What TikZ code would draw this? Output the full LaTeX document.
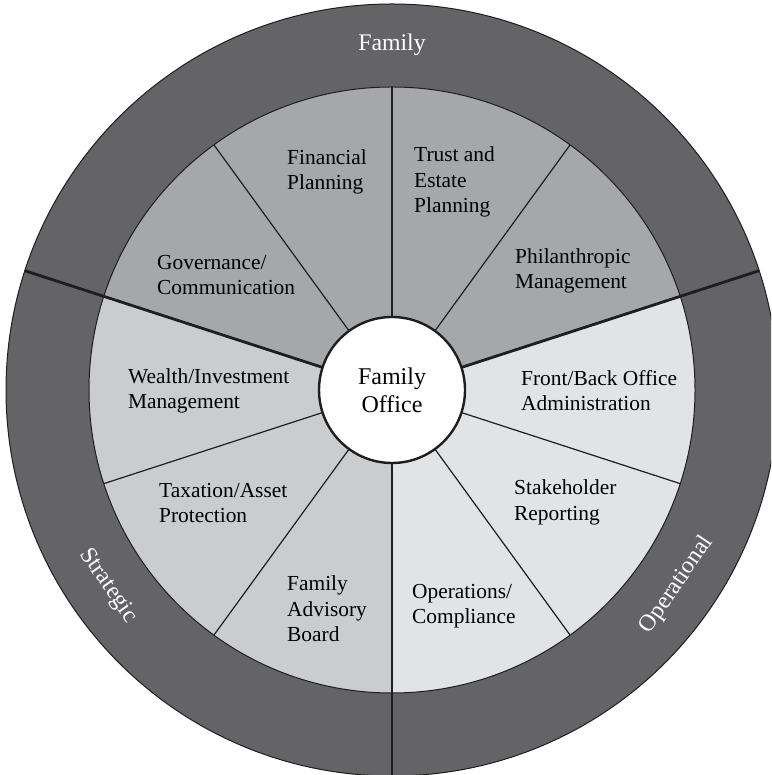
\documentclass[tikz,border=0pt]{standalone}
\usepackage{fontspec}
\setmainfont{Liberation Serif}
\usetikzlibrary{calc}
\definecolor{ringgray}{HTML}{646466}
\definecolor{familygray}{HTML}{A6A7A9}
\definecolor{strategicgray}{HTML}{CBCCCD}
\definecolor{operationalgray}{HTML}{E2E3E4}
\definecolor{inkline}{HTML}{1E1E1E}
\tikzset{
  segtext/.style={anchor=west, inner sep=0pt, align=left, text=black,
    font=\fontsize{21.4}{25.6}\selectfont},
  ringtext/.style={inner sep=0pt, text=white, font=\fontsize{23.8}{28}\selectfont},
  thinspoke/.style={draw=inkline, line width=1.2pt},
  thickspoke/.style={draw=inkline, line width=2.8pt},
  hub/.style={circle, draw=inkline, line width=2.4pt, fill=white,
    minimum size=146pt, inner sep=0pt, align=center,
    font=\fontsize{24}{28.6}\selectfont}
}
\begin{document}
\begin{tikzpicture}[x=1pt, y=1pt]
\clip (0,0) rectangle (771,775);
\coordinate (C) at (392,385);
% outer ring
\fill[ringgray, draw=inkline, line width=1pt] (C) circle[radius=386pt];
% three sectors of the inner wheel
\fill[familygray] (C) -- ++(18:303pt) arc[start angle=18, end angle=162, radius=303pt] -- cycle;
\fill[strategicgray] (C) -- ++(162:303pt) arc[start angle=162, end angle=270, radius=303pt] -- cycle;
\fill[operationalgray] (C) -- ++(270:303pt) arc[start angle=270, end angle=378, radius=303pt] -- cycle;
\draw[inkline, line width=1pt] (C) circle[radius=303pt];
% spokes between the services
\foreach \a in {54,90,126,198,234,306,342}
  \draw[thinspoke] (C) -- ++(\a:303pt);
% sector dividers running through the outer ring
\foreach \a in {18,162,270}
  \draw[thickspoke] (C) -- ++(\a:386pt);
% centre
\node[hub] (office) at (C) {Family\\[-1pt]Office};
% services
\node[segtext] (fin) at (287,603) {Financial\\Planning};
\node[segtext] (trust) at (414,593) {Trust and\\Estate\\Planning};
\node[segtext] (gov) at (157,500) {Governance/\\Communication};
\node[segtext] (phil) at (515,504) {Philanthropic\\Management};
\node[segtext] (wealth) at (128,384) {Wealth/Investment\\Management};
\node[segtext] (front) at (521,384.5) {Front/Back Office\\Administration};
\node[segtext] (tax) at (159,272) {Taxation/Asset\\Protection};
\node[segtext] (stake) at (514,272.5) {Stakeholder\\Reporting};
\node[segtext] (board) at (287,166) {Family\\Advisory\\Board};
\node[segtext] (ops) at (412,169) {Operations/\\Compliance};
% ring labels
\node[ringtext] (famlabel) at ($(C)+(90:345pt)$) {Family};
\node[ringtext, rotate=-55.4] (strlabel) at ($(C)+(214.6:345pt)$) {Strategic};
\node[ringtext, rotate=55.6] (oplabel) at ($(C)+(-34.4:345pt)$) {Operational};
\end{tikzpicture}
\end{document}
